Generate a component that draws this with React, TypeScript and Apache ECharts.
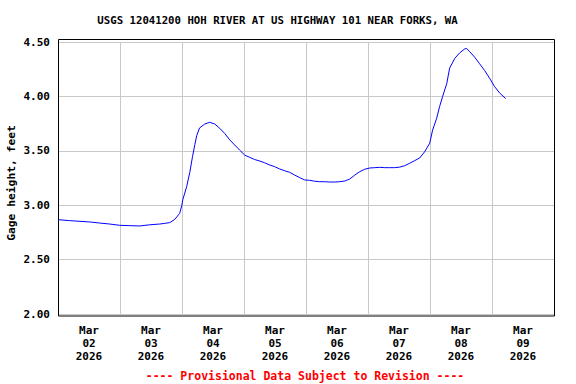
import React, { useEffect, useRef } from "react";
import * as echarts from "echarts";

const titleText = "USGS 12041200 HOH RIVER AT US HIGHWAY 101 NEAR FORKS, WA";
const yAxisName = "Gage height, feet";
const footerText = "---- Provisional Data Subject to Revision ----";
const dayLabels = ["Mar\n02\n2026", "Mar\n03\n2026", "Mar\n04\n2026", "Mar\n05\n2026", "Mar\n06\n2026", "Mar\n07\n2026", "Mar\n08\n2026", "Mar\n09\n2026"];
// hours since Mar 02 00:00
const hours = [0, 4.5, 12.3, 16.1, 20.0, 23.9, 27.8, 31.6, 35.5, 39.4, 41.3, 43.3, 45.2, 47.1, 47.9, 48.3, 49.8, 51.0, 52.1, 53.0, 53.7, 54.8, 56.8, 58.7, 60.7, 62.6, 64.5, 66.5, 68.4, 70.3, 72.3, 74.2, 76.1, 78.1, 80.0, 81.9, 83.9, 85.8, 87.7, 89.7, 91.6, 93.6, 95.5, 97.4, 99.4, 101.3, 103.2, 105.2, 107.1, 109.0, 111.0, 112.9, 114.9, 116.8, 118.7, 120.7, 122.6, 124.5, 126.5, 128.4, 130.3, 132.3, 134.2, 136.1, 138.1, 140.0, 141.9, 143.9, 145.0, 146.6, 147.7, 148.9, 150.5, 151.6, 153.6, 155.5, 157.4, 158.2, 159.4, 161.3, 163.2, 165.2, 167.1, 169.0, 171.0, 173.3];
const gageHeight = [2.867, 2.858, 2.846, 2.836, 2.827, 2.815, 2.812, 2.809, 2.82, 2.827, 2.833, 2.84, 2.87, 2.925, 2.995, 3.05, 3.17, 3.3, 3.45, 3.56, 3.64, 3.71, 3.746, 3.762, 3.746, 3.707, 3.66, 3.6, 3.553, 3.507, 3.46, 3.44, 3.42, 3.406, 3.39, 3.37, 3.354, 3.333, 3.317, 3.302, 3.277, 3.253, 3.232, 3.229, 3.22, 3.216, 3.216, 3.213, 3.213, 3.216, 3.222, 3.24, 3.277, 3.308, 3.33, 3.342, 3.345, 3.348, 3.345, 3.345, 3.345, 3.35, 3.363, 3.385, 3.41, 3.434, 3.49, 3.57, 3.69, 3.8, 3.905, 4.0, 4.12, 4.26, 4.35, 4.4, 4.436, 4.44, 4.41, 4.36, 4.3, 4.236, 4.166, 4.09, 4.03, 3.98];

const FONT = "'DejaVu Sans Mono', monospace";

export default function App() {
  const ref = useRef<HTMLDivElement>(null);
  useEffect(() => {
    if (!ref.current) return;
    const chart = echarts.init(ref.current, undefined, { renderer: "svg" });
    const gridStyle = { lineStyle: { color: "#c8c8c8", width: 1 } };
    chart.setOption({
      animation: false,
      backgroundColor: "#ffffff",
      grid: { left: 58, right: 22, top: 42, bottom: 70, containLabel: false },
      xAxis: [
        {
          type: "category",
          data: dayLabels,
          boundaryGap: true,
          axisLine: { show: false },
          axisTick: { show: false },
          splitLine: { show: true, ...gridStyle },
          axisLabel: {
            interval: 0,
            margin: 10,
            color: "#000",
            fontFamily: FONT,
            fontWeight: "bold",
            fontSize: 11,
            lineHeight: 13,
          },
        },
        { type: "value", min: 0, max: 192, show: false },
      ],
      yAxis: {
        type: "value",
        min: 2,
        max: 4.5,
        interval: 0.5,
        axisLine: { show: false },
        axisTick: { show: false },
        splitLine: { show: true, ...gridStyle },
        axisLabel: {
          margin: 8,
          color: "#000",
          fontFamily: FONT,
          fontWeight: "bold",
          fontSize: 11,
          formatter: (v: number) => v.toFixed(2),
        },
      },
      series: [
        {
          type: "line",
          xAxisIndex: 1,
          data: hours.map((h, i) => [h, gageHeight[i]]),
          showSymbol: false,
          smooth: false,
          lineStyle: { color: "#0000ff", width: 1 },
        },
      ],
      graphic: [
        {
          type: "rect",
          z: 100,
          shape: { x: 58.5, y: 39.5, width: 496, height: 276.5 },
          style: { fill: "none", stroke: "#000", lineWidth: 1 },
        },
        {
          type: "text",
          x: 277.5,
          y: 20,
          style: { text: titleText, align: "center", verticalAlign: "middle", fill: "#000", font: `bold 10.7px ${FONT}` },
        },
        {
          type: "text",
          x: 11,
          y: 183,
          rotation: Math.PI / 2,
          style: { text: yAxisName, align: "center", verticalAlign: "middle", fill: "#000", font: `bold 11.3px ${FONT}` },
        },
        {
          type: "text",
          x: 305,
          y: 376,
          style: { text: footerText, align: "center", verticalAlign: "middle", fill: "#ff0000", font: `bold 11.5px ${FONT}` },
        },
      ],
    });
    return () => chart.dispose();
  }, []);
  return <div ref={ref} style={{ width: 576, height: 384, position: "absolute", left: 0, top: 0 }} />;
}
